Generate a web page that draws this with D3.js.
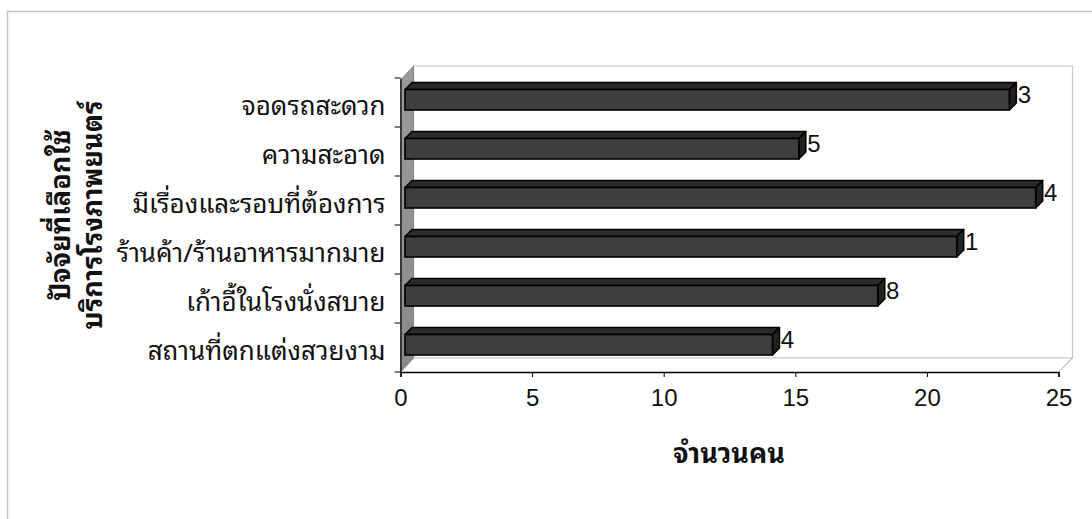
<!DOCTYPE html>
<html>
<head>
<meta charset="utf-8">
<script src="https://cdn.jsdelivr.net/npm/d3@7"></script>
<style>
  html, body { margin: 0; padding: 0; background: #fff; }
  svg { display: block; }
  .thai { font-family: "Noto Sans Thai Looped", "Noto Sans Thai", Tahoma, Loma, Garuda, "Noto Sans", sans-serif; }
  .num { font-family: "Liberation Sans", Arial, sans-serif; }
</style>
</head>
<body>
<svg id="chart" width="1092" height="519"></svg>
<script>
// Factors for choosing a cinema (number of people)
const categories = [
  "จอดรถสะดวก",
  "ความสะอาด",
  "มีเรื่องและรอบที่ต้องการ",
  "ร้านค้า/ร้านอาหารมากมาย",
  "เก้าอี้ในโรงนั่งสบาย",
  "สถานที่ตกแต่งสวยงาม"
];
const values = [23, 15, 24, 21, 18, 14];
const xTicks = [0, 5, 10, 15, 20, 25];
const yTitleLines = ["ปัจจัยที่เลือกใช้", "บริการโรงภาพยนตร์"];
const xTitle = "จำนวนคน";

const svg = d3.select("#chart");

// plot frame (front floor edge and left axis)
const plotLeft = 400.5, plotRight = 1058.5, plotTop = 78, plotBottom = 372;
const depth = 14;      // back wall offset
const barDepth = 7;    // bar 3-D offset

const x = d3.scaleLinear().domain([0, 25]).range([plotLeft, plotRight]);
const y = d3.scaleBand().domain(categories).range([plotTop, plotBottom]).paddingInner(0).paddingOuter(0);

// outer chart border
svg.append("path")
  .attr("d", `M7.5,519 L7.5,11.5 L1092,11.5`)
  .attr("fill", "none").attr("stroke", "#c4c4c4").attr("stroke-width", 1.5);

// back wall
svg.append("rect")
  .attr("x", plotLeft + depth - 1).attr("y", plotTop - depth + 2)
  .attr("width", plotRight - plotLeft + 1).attr("height", plotBottom - plotTop - 2)
  .attr("fill", "#fff").attr("stroke", "#c8c8c8").attr("stroke-width", 1.2);

// floor
svg.append("path")
  .attr("d", `M${plotLeft},${plotBottom} L${plotLeft + depth - 1},${plotBottom - depth} L${plotRight + depth},${plotBottom - depth} L${plotRight},${plotBottom}`)
  .attr("fill", "#fff").attr("stroke", "#c8c8c8").attr("stroke-width", 1.2);

// left side wall (grey)
const wallGrad = svg.append("defs").append("linearGradient")
  .attr("id", "wallGrad").attr("x1", 0).attr("x2", 0).attr("y1", 0).attr("y2", 1);
wallGrad.append("stop").attr("offset", 0).attr("stop-color", "#9a9a9a");
wallGrad.append("stop").attr("offset", 1).attr("stop-color", "#8a8a8a");
svg.append("path")
  .attr("d", `M${plotLeft},${plotTop + 2} L${plotLeft + depth - 1},${plotTop - depth + 2} L${plotLeft + depth - 1},${plotBottom - depth} L${plotLeft},${plotBottom} Z`)
  .attr("fill", "url(#wallGrad)").attr("stroke", "#777").attr("stroke-width", 0.8);

// value labels (drawn first so the bar ends hide the leading digit)
svg.append("g").selectAll("text").data(values).join("text")
  .attr("class", "num")
  .attr("x", d => x(d) - 1.5)
  .attr("y", (d, i) => y(categories[i]) + y.bandwidth() / 2 + 0.5)
  .attr("font-size", 24)
  .attr("fill", "#111")
  .text(d => d);

// bars
const bars = svg.append("g").selectAll("g").data(values).join("g");
const x0 = x(0) + 4.5;
const fy0 = (d, i) => y(categories[i]) + y.bandwidth() / 2 - 13;
const fy1 = (d, i) => y(categories[i]) + y.bandwidth() / 2 + 7.5;
const fx1 = d => x(d) + 3.5;

// top face
bars.append("path")
  .attr("d", (d, i) => {
    const t = fy0(d, i), e = fx1(d);
    return `M${x0},${t} L${x0 + barDepth},${t - barDepth} L${e + barDepth},${t - barDepth} L${e},${t} Z`;
  })
  .attr("fill", "#2b2b2b").attr("stroke", "#000").attr("stroke-width", 1.5).attr("stroke-linejoin", "round");
// end face
bars.append("path")
  .attr("d", (d, i) => {
    const t = fy0(d, i), b = fy1(d, i), e = fx1(d);
    return `M${e},${t} L${e + barDepth},${t - barDepth} L${e + barDepth},${b - barDepth} L${e},${b} Z`;
  })
  .attr("fill", "#222").attr("stroke", "#000").attr("stroke-width", 1.5).attr("stroke-linejoin", "round");
// front face
bars.append("rect")
  .attr("x", x0)
  .attr("y", (d, i) => fy0(d, i))
  .attr("width", d => fx1(d) - x0)
  .attr("height", (d, i) => fy1(d, i) - fy0(d, i))
  .attr("fill", "#3e3e3e").attr("stroke", "#000").attr("stroke-width", 1.6);

// category axis
const yAxis = svg.append("g")
  .attr("transform", `translate(${plotLeft},0)`)
  .call(d3.axisLeft(y).tickSize(0).tickPadding(15));
yAxis.select(".domain").attr("stroke", "#000").attr("stroke-width", 1.2);
yAxis.selectAll(".tick text")
  .attr("class", "thai")
  .attr("font-size", 26)
  .attr("fill", "#111")
  .attr("dy", "0.48em");
// band boundary tick marks
svg.append("g").selectAll("line").data(categories.concat([null])).join("line")
  .attr("x1", plotLeft - 6).attr("x2", plotLeft)
  .attr("y1", (d, i) => plotTop + i * y.step()).attr("y2", (d, i) => plotTop + i * y.step())
  .attr("stroke", "#000").attr("stroke-width", 1);

// value axis
const xAxis = svg.append("g")
  .attr("transform", `translate(0,${plotBottom})`)
  .call(d3.axisBottom(x).tickValues(xTicks).tickSize(5).tickPadding(12).tickFormat(d3.format("d")));
xAxis.select(".domain").attr("stroke", "#000").attr("stroke-width", 1.4);
xAxis.selectAll(".tick line").attr("stroke", "#000");
xAxis.selectAll(".tick text")
  .attr("class", "num")
  .attr("font-size", 24)
  .attr("fill", "#111");

// axis titles
svg.append("text")
  .attr("class", "thai")
  .attr("x", 729).attr("y", 463)
  .attr("text-anchor", "middle")
  .attr("font-size", 27).attr("font-weight", "bold")
  .attr("fill", "#111")
  .text(xTitle);

const yt = svg.append("text")
  .attr("class", "thai")
  .attr("transform", "translate(0,215) rotate(-90)")
  .attr("text-anchor", "middle")
  .attr("font-size", 27).attr("font-weight", "bold")
  .attr("fill", "#111");
yt.selectAll("tspan").data(yTitleLines).join("tspan")
  .attr("x", 0)
  .attr("y", (d, i) => 70 + i * 32)
  .text(d => d);
</script>
</body>
</html>
